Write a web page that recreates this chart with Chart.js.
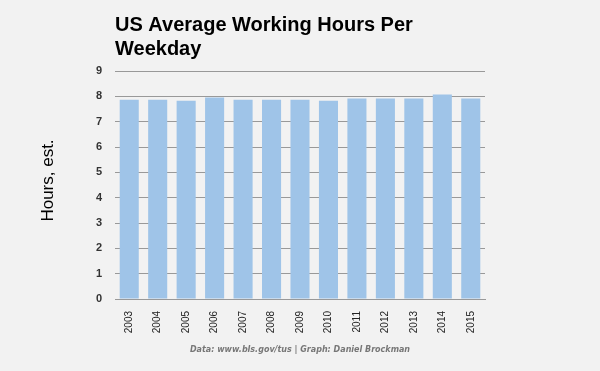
<!DOCTYPE html>
<html>
<head>
<meta charset="utf-8">
<script src="https://cdn.jsdelivr.net/npm/chart.js@4"></script>
<style>
html,body{margin:0;padding:0;background:#f2f2f2;}
#wrap{width:600px;height:371px;position:relative;}
</style>
</head>
<body>
<div id="wrap"><canvas id="c" width="600" height="371"></canvas></div>
<script>
const years = ['2003','2004','2005','2006','2007','2008','2009','2010','2011','2012','2013','2014','2015'];
const hours = [7.87,7.87,7.83,7.95,7.87,7.87,7.87,7.83,7.91,7.91,7.91,8.07,7.91];
const titleLines = ['US Average Working Hours Per','Weekday'];
const yAxisTitle = 'Hours, est.';
const footerText = 'Data: www.bls.gov/tus | Graph: Daniel Brockman';
const yMin = 0, yMax = 9, yStep = 1;

const textPlugin = {
  id: 'texts',
  beforeDraw(chart) {
    const ctx = chart.ctx;
    ctx.save();
    ctx.fillStyle = '#f2f2f2';
    ctx.fillRect(0, 0, chart.width, chart.height);
    ctx.restore();
  },
  afterDraw(chart) {
    const ctx = chart.ctx;
    const a = chart.chartArea;
    ctx.save();
    ctx.fillStyle = '#000';
    ctx.font = 'bold 20px "Liberation Sans", Arial, sans-serif';
    ctx.textAlign = 'left';
    ctx.textBaseline = 'alphabetic';
    titleLines.forEach((t, i) => ctx.fillText(t, a.left, 30.5 + i * 24.5));
    // y axis title
    ctx.save();
    ctx.translate(48, (a.top + a.bottom) / 2 - 4.5);
    ctx.rotate(-Math.PI / 2);
    ctx.font = '17px "Liberation Sans", Arial, sans-serif';
    ctx.textAlign = 'center';
    ctx.textBaseline = 'middle';
    ctx.fillText(yAxisTitle, 0, 0);
    ctx.restore();
    ctx.fillStyle = '#777';
    ctx.font = 'italic bold 8px "DejaVu Sans", Verdana, sans-serif';
    ctx.textAlign = 'center';
    ctx.textBaseline = 'middle';
    ctx.fillText(footerText, (a.left + a.right) / 2, 350);
    ctx.restore();
  }
};

new Chart(document.getElementById('c'), {
  type: 'bar',
  data: {
    labels: years,
    datasets: [{
      data: hours,
      backgroundColor: '#9fc4e8',
      borderWidth: 0,
      barPercentage: 0.67,
      categoryPercentage: 1.0
    }]
  },
  options: {
    responsive: false,
    animation: false,
    devicePixelRatio: 1,
    layout: { padding: { top: 71, left: 0, right: 115, bottom: 0 } },
    plugins: { legend: { display: false }, tooltip: { enabled: false }, title: { display: false } },
    scales: {
      x: {
        grid: { display: false, drawTicks: false },
        border: { display: true, color: '#999', width: 1 },
        ticks: {
          minRotation: 90, maxRotation: 90, padding: 12, autoSkip: false,
          color: '#222', font: { family: '"Liberation Sans", Arial, sans-serif', size: 10 }
        },
        afterFit(s) { s.height = 72; }
      },
      y: {
        min: yMin, max: yMax,
        grid: { color: '#999', lineWidth: 1, drawTicks: false },
        border: { display: false },
        ticks: {
          stepSize: yStep, padding: 13, color: '#333',
          font: { family: '"Liberation Sans", Arial, sans-serif', size: 11, weight: 'bold' }
        },
        afterFit(s) { s.width = 115; }
      }
    }
  },
  plugins: [textPlugin]
});
</script>
</body>
</html>
